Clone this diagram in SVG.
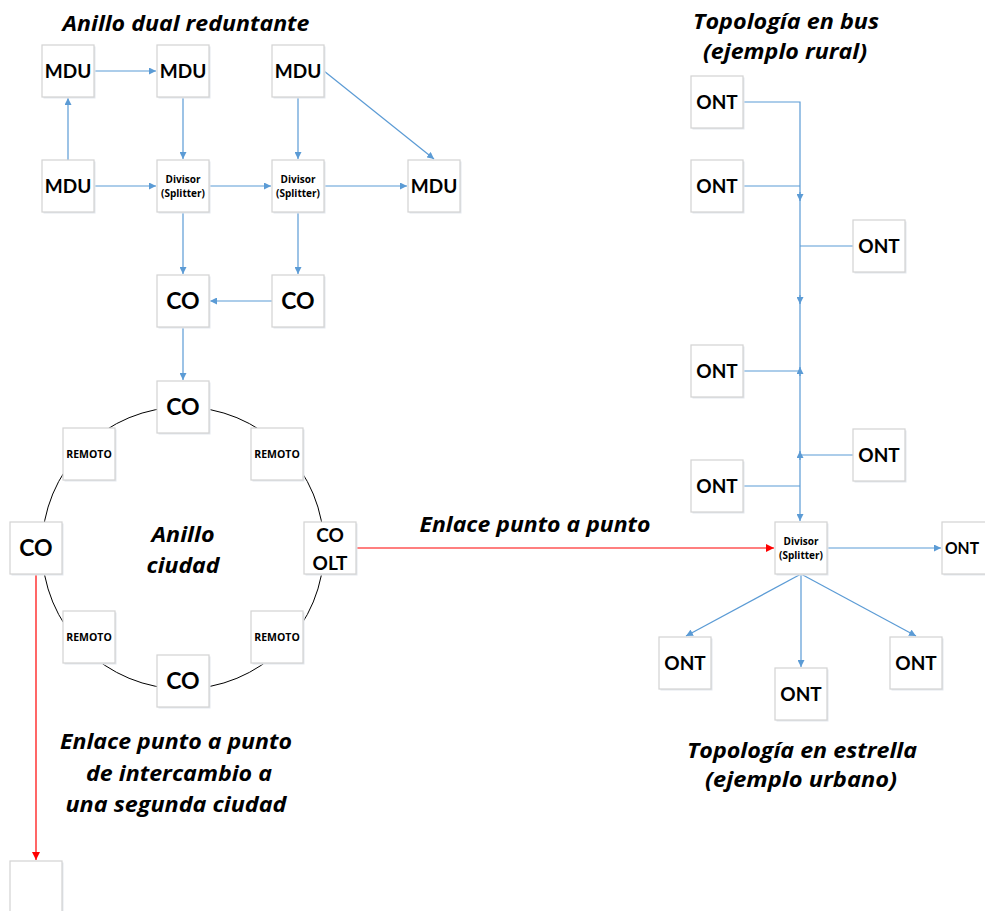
<svg xmlns="http://www.w3.org/2000/svg" width="985" height="911" viewBox="0 0 985 911">
<defs>
<style>
.bx{fill:#ffffff;stroke:#d3d3d3;stroke-width:1.2}
.sh{fill:#e4e8ee}
.t{font-family:Lato,"Open Sans","Liberation Sans",sans-serif;font-weight:bold;fill:#000;text-anchor:middle}
.big{font-size:23px}
.mid{font-size:19px}
.sm{font-family:"Open Sans",Lato,"Liberation Sans",sans-serif;font-size:10px}
.rm{font-family:"Open Sans",Lato,"Liberation Sans",sans-serif;font-size:10.5px}
.ttl{font-family:"Open Sans",Lato,"Liberation Sans",sans-serif;font-weight:bold;font-style:italic;font-size:22px;fill:#000;text-anchor:middle}
.bl{fill:none;stroke:#5b9bd5;stroke-width:1.2}
.rd{fill:none;stroke:#ff0000;stroke-width:1.2}
</style>
<marker id="ab" viewBox="0 0 10 10" refX="10" refY="5" markerWidth="7" markerHeight="7" markerUnits="userSpaceOnUse" orient="auto">
<path d="M0,0 L10,5 L0,10 z" fill="#5b9bd5"/>
</marker>
<marker id="ar" viewBox="0 0 10 10" refX="10" refY="5" markerWidth="8" markerHeight="8" markerUnits="userSpaceOnUse" orient="auto">
<path d="M0,0 L10,5 L0,10 z" fill="#ff0000"/>
</marker>
</defs>
<rect width="985" height="911" fill="#ffffff"/>

<g id="labels">
<text class="ttl" x="186" y="31" textLength="247" lengthAdjust="spacingAndGlyphs">Anillo dual reduntante</text>
<text class="ttl" x="786" y="29" textLength="186" lengthAdjust="spacingAndGlyphs">Topología en bus</text>
<text class="ttl" x="785" y="59" textLength="164" lengthAdjust="spacingAndGlyphs">(ejemplo rural)</text>
<text class="ttl" x="183" y="542" textLength="63" lengthAdjust="spacingAndGlyphs">Anillo</text>
<text class="ttl" x="183" y="573" textLength="73" lengthAdjust="spacingAndGlyphs">ciudad</text>
<text class="ttl" x="535" y="532" textLength="231" lengthAdjust="spacingAndGlyphs">Enlace punto a punto</text>
<text class="ttl" x="176" y="749" textLength="232" lengthAdjust="spacingAndGlyphs">Enlace punto a punto</text>
<text class="ttl" x="179" y="781" textLength="186" lengthAdjust="spacingAndGlyphs">de intercambio a</text>
<text class="ttl" x="176" y="812" textLength="221" lengthAdjust="spacingAndGlyphs">una segunda ciudad</text>
<text class="ttl" x="802" y="758" textLength="230" lengthAdjust="spacingAndGlyphs">Topología en estrella</text>
<text class="ttl" x="801" y="787" textLength="192" lengthAdjust="spacingAndGlyphs">(ejemplo urbano)</text>
</g>

<g id="ring">
<circle cx="183" cy="548" r="141" fill="none" stroke="#000" stroke-width="1"/>
</g>

<g id="connectors">
<path class="bl" d="M94,71 H156" marker-end="url(#ab)"/>
<path class="bl" d="M68,160 V98" marker-end="url(#ab)"/>
<path class="bl" d="M183,97 V159" marker-end="url(#ab)"/>
<path class="bl" d="M298,97 V159" marker-end="url(#ab)"/>
<path class="bl" d="M324,71 L434,159" marker-end="url(#ab)"/>
<path class="bl" d="M94,186 H156" marker-end="url(#ab)"/>
<path class="bl" d="M209,186 H271" marker-end="url(#ab)"/>
<path class="bl" d="M324,186 H407" marker-end="url(#ab)"/>
<path class="bl" d="M183,212 V274" marker-end="url(#ab)"/>
<path class="bl" d="M298,212 V274" marker-end="url(#ab)"/>
<path class="bl" d="M272,301 H210" marker-end="url(#ab)"/>
<path class="bl" d="M183,327 V380" marker-end="url(#ab)"/>
<path class="rd" d="M356,548 H774" marker-end="url(#ar)"/>
<path class="rd" d="M36,574 V860" marker-end="url(#ar)"/>
<path class="bl" d="M827,548 H941" marker-end="url(#ab)"/>
<path class="bl" d="M801,574 L686,636" marker-end="url(#ab)"/>
<path class="bl" d="M801,574 V667" marker-end="url(#ab)"/>
<path class="bl" d="M801,574 L916,636" marker-end="url(#ab)"/>
<path class="bl" d="M743,102 H800 V521" marker-end="url(#ab)"/>
<path class="bl" d="M743,186 H800"/>
<path class="bl" d="M800,246 H853"/>
<path class="bl" d="M743,371 H800"/>
<path class="bl" d="M800,455 H853"/>
<path class="bl" d="M743,486 H800"/>
<path class="bl" d="M800,192 V201" marker-end="url(#ab)"/>
<path class="bl" d="M800,295 V304" marker-end="url(#ab)"/>
<path class="bl" d="M800,376 V367" marker-end="url(#ab)"/>
<path class="bl" d="M800,460 V451" marker-end="url(#ab)"/>
</g>

<g id="mdu1"><rect class="sh" x="43.5" y="46.5" width="52" height="52"/><rect class="bx" x="42" y="45" width="52" height="52"/><text class="t mid" x="68" y="78">MDU</text></g>
<g id="mdu2"><rect class="sh" x="158.5" y="46.5" width="52" height="52"/><rect class="bx" x="157" y="45" width="52" height="52"/><text class="t mid" x="183" y="78">MDU</text></g>
<g id="mdu3"><rect class="sh" x="273.5" y="46.5" width="52" height="52"/><rect class="bx" x="272" y="45" width="52" height="52"/><text class="t mid" x="298" y="78">MDU</text></g>
<g id="mdu4"><rect class="sh" x="43.5" y="161.5" width="52" height="52"/><rect class="bx" x="42" y="160" width="52" height="52"/><text class="t mid" x="68" y="193">MDU</text></g>
<g id="div1"><rect class="sh" x="158.5" y="161.5" width="52" height="52"/><rect class="bx" x="157" y="160" width="52" height="52"/><text class="t sm" x="183" y="183">Divisor</text><text class="t sm" x="183" y="197">(Splitter)</text></g>
<g id="div2"><rect class="sh" x="273.5" y="161.5" width="52" height="52"/><rect class="bx" x="272" y="160" width="52" height="52"/><text class="t sm" x="298" y="183">Divisor</text><text class="t sm" x="298" y="197">(Splitter)</text></g>
<g id="mdu5"><rect class="sh" x="409.5" y="161.5" width="52" height="52"/><rect class="bx" x="408" y="160" width="52" height="52"/><text class="t mid" x="434" y="193">MDU</text></g>
<g id="co1"><rect class="sh" x="158.5" y="276.5" width="52" height="52"/><rect class="bx" x="157" y="275" width="52" height="52"/><text class="t big" x="183" y="309">CO</text></g>
<g id="co2"><rect class="sh" x="273.5" y="276.5" width="52" height="52"/><rect class="bx" x="272" y="275" width="52" height="52"/><text class="t big" x="298" y="309">CO</text></g>
<g id="coTop"><rect class="sh" x="158.5" y="382.5" width="52" height="52"/><rect class="bx" x="157" y="381" width="52" height="52"/><text class="t big" x="183" y="415">CO</text></g>
<g id="remTL"><rect class="sh" x="64.5" y="429.5" width="52" height="52"/><rect class="bx" x="63" y="428" width="52" height="52"/><text class="t rm" x="89" y="458">REMOTO</text></g>
<g id="remTR"><rect class="sh" x="252.5" y="429.5" width="52" height="52"/><rect class="bx" x="251" y="428" width="52" height="52"/><text class="t rm" x="277" y="458">REMOTO</text></g>
<g id="coLeft"><rect class="sh" x="11.5" y="523.5" width="52" height="52"/><rect class="bx" x="10" y="522" width="52" height="52"/><text class="t big" x="36" y="556">CO</text></g>
<g id="coOlt"><rect class="sh" x="305.5" y="523.5" width="52" height="52"/><rect class="bx" x="304" y="522" width="52" height="52"/><text class="t mid" x="330" y="542">CO</text><text class="t mid" x="330" y="570">OLT</text></g>
<g id="remBL"><rect class="sh" x="64.5" y="612.5" width="52" height="52"/><rect class="bx" x="63" y="611" width="52" height="52"/><text class="t rm" x="89" y="641">REMOTO</text></g>
<g id="remBR"><rect class="sh" x="252.5" y="612.5" width="52" height="52"/><rect class="bx" x="251" y="611" width="52" height="52"/><text class="t rm" x="277" y="641">REMOTO</text></g>
<g id="coBottom"><rect class="sh" x="158.5" y="656.5" width="52" height="52"/><rect class="bx" x="157" y="655" width="52" height="52"/><text class="t big" x="183" y="689">CO</text></g>
<g id="city2"><rect class="sh" x="11.5" y="862.5" width="52" height="52"/><rect class="bx" x="10" y="861" width="52" height="52"/></g>

<g id="ont1"><rect class="sh" x="692.5" y="77.5" width="52" height="52"/><rect class="bx" x="691" y="76" width="52" height="52"/><text class="t mid" x="717" y="109">ONT</text></g>
<g id="ont2"><rect class="sh" x="692.5" y="161.5" width="52" height="52"/><rect class="bx" x="691" y="160" width="52" height="52"/><text class="t mid" x="717" y="193">ONT</text></g>
<g id="ont3"><rect class="sh" x="854.5" y="221.5" width="52" height="52"/><rect class="bx" x="853" y="220" width="52" height="52"/><text class="t mid" x="879" y="253">ONT</text></g>
<g id="ont4"><rect class="sh" x="692.5" y="346.5" width="52" height="52"/><rect class="bx" x="691" y="345" width="52" height="52"/><text class="t mid" x="717" y="378">ONT</text></g>
<g id="ont5"><rect class="sh" x="854.5" y="430.5" width="52" height="52"/><rect class="bx" x="853" y="429" width="52" height="52"/><text class="t mid" x="879" y="462">ONT</text></g>
<g id="ont6"><rect class="sh" x="692.5" y="461.5" width="52" height="52"/><rect class="bx" x="691" y="460" width="52" height="52"/><text class="t mid" x="717" y="493">ONT</text></g>
<g id="div3"><rect class="sh" x="776.5" y="523.5" width="52" height="52"/><rect class="bx" x="775" y="522" width="52" height="52"/><text class="t sm" x="801" y="545">Divisor</text><text class="t sm" x="801" y="559">(Splitter)</text></g>
<g id="ont7"><rect class="sh" x="943.5" y="523.5" width="52" height="52"/><rect class="bx" x="942" y="522" width="52" height="52"/><text class="t" x="945" y="554" style="text-anchor:start;font-size:17px" textLength="34" lengthAdjust="spacingAndGlyphs">ONT</text></g>
<g id="ont8"><rect class="sh" x="660.5" y="638.5" width="52" height="52"/><rect class="bx" x="659" y="637" width="52" height="52"/><text class="t mid" x="685" y="670">ONT</text></g>
<g id="ont9"><rect class="sh" x="776.5" y="669.5" width="52" height="52"/><rect class="bx" x="775" y="668" width="52" height="52"/><text class="t mid" x="801" y="701">ONT</text></g>
<g id="ont10"><rect class="sh" x="891.5" y="638.5" width="52" height="52"/><rect class="bx" x="890" y="637" width="52" height="52"/><text class="t mid" x="916" y="670">ONT</text></g>
</svg>
